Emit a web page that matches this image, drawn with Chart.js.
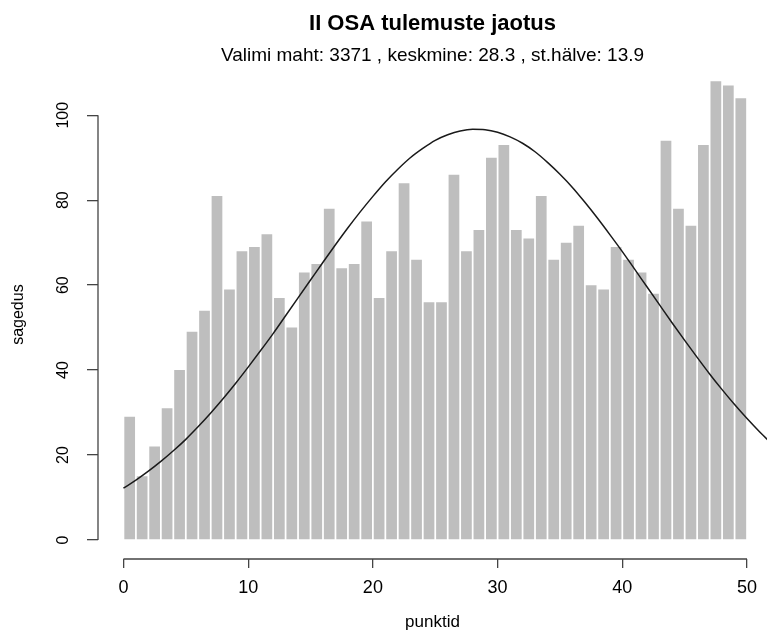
<!DOCTYPE html>
<html lang="et">
<head>
    <meta charset="UTF-8">
    <title>II OSA tulemuste jaotus</title>
    <style>
        body {
            margin: 0;
            background-color: #fff;
        }
        canvas {
            display: block;
        }
    </style>
</head>
<body>

<canvas id="histChart" width="767" height="633"></canvas>

<script src="https://cdn.jsdelivr.net/npm/chart.js"></script>
<script>
    // histogram: one bar per score bin [i, i+1]
    const binStart = [0, 1, 2, 3, 4, 5, 6, 7, 8, 9,
                      10, 11, 12, 13, 14, 15, 16, 17, 18, 19,
                      20, 21, 22, 23, 24, 25, 26, 27, 28, 29,
                      30, 31, 32, 33, 34, 35, 36, 37, 38, 39,
                      40, 41, 42, 43, 44, 45, 46, 47, 48, 49];
    const counts = [29, 15, 22, 31, 40, 49, 54, 81, 59, 68,
                    69, 72, 57, 50, 63, 65, 78, 64, 65, 75,
                    57, 68, 84, 66, 56, 56, 86, 68, 73, 90,
                    93, 73, 71, 81, 66, 70, 74, 60, 59, 69,
                    66, 63, 58, 94, 78, 74, 93, 108, 107, 104];

    // normal curve (mean 28.3, sd 13.9, n 3371)
    const curveX = [0, 1, 2, 3, 4, 5, 6, 7, 8, 9,
                    10, 11, 12, 13, 14, 15, 16, 17, 18, 19,
                    20, 21, 22, 23, 24, 25, 26, 27, 28, 29,
                    30, 31, 32, 33, 34, 35, 36, 37, 38, 39,
                    40, 41, 42, 43, 44, 45, 46, 47, 48, 49,
                    50, 51, 52];
    const curveY = [12.2, 14.1, 16.2, 18.5, 21.0, 23.7, 26.7, 29.9, 33.3, 36.9,
                    40.7, 44.6, 48.6, 52.8, 57.0, 61.2, 65.4, 69.5, 73.5, 77.3,
                    80.9, 84.3, 87.3, 90.0, 92.2, 94.1, 95.4, 96.3, 96.7, 96.6,
                    96.0, 94.9, 93.4, 91.4, 88.9, 86.1, 83.0, 79.5, 75.8, 71.9,
                    67.9, 63.7, 59.5, 55.3, 51.1, 47.0, 43.0, 39.1, 35.4, 31.9,
                    28.6, 25.5, 22.6];

    const xTicks = [0, 10, 20, 30, 40, 50];
    const yTicks = [0, 20, 40, 60, 80, 100];

    const axisColor = '#444';
    const fontFamily = '"Liberation Sans", Arial, sans-serif';

    // R style axis lines: only from first to last tick
    const axisLines = {
        id: 'axisLines',
        afterDraw(chart) {
            const ctx = chart.ctx;
            const x = chart.scales.x;
            const y = chart.scales.y;
            ctx.save();
            ctx.strokeStyle = axisColor;
            ctx.lineWidth = 1.3;
            ctx.beginPath();
            ctx.moveTo(x.getPixelForValue(xTicks[0]), x.top);
            ctx.lineTo(x.getPixelForValue(xTicks[xTicks.length - 1]), x.top);
            ctx.moveTo(y.right, y.getPixelForValue(yTicks[0]));
            ctx.lineTo(y.right, y.getPixelForValue(yTicks[yTicks.length - 1]));
            ctx.stroke();
            ctx.restore();
        }
    };

    const ctx = document.getElementById('histChart').getContext('2d');
    new Chart(ctx, {
        type: 'bar',
        data: {
            datasets: [
                {
                    type: 'line',
                    label: 'normaaljaotus',
                    data: curveX.map((v, i) => ({ x: v, y: curveY[i] })),
                    borderColor: '#1a1a1a',
                    borderWidth: 1.5,
                    pointRadius: 0,
                    fill: false,
                    cubicInterpolationMode: 'monotone',
                    order: 0
                },
                {
                    type: 'bar',
                    label: 'sagedus',
                    data: binStart.map((b, i) => ({ x: b + 0.5, y: counts[i] })),
                    backgroundColor: '#bebebe',
                    borderWidth: 0,
                    barPercentage: 0.86,
                    categoryPercentage: 1.0,
                    order: 1
                }
            ]
        },
        options: {
            responsive: false,
            animation: false,
            devicePixelRatio: 1,
            layout: { padding: { left: 0, right: 0, top: 0, bottom: 0 } },
            plugins: {
                legend: { display: false },
                tooltip: { enabled: false },
                title: {
                    display: true,
                    fullSize: false,
                    text: 'II OSA tulemuste jaotus',
                    color: '#000',
                    font: { family: fontFamily, size: 22, weight: 'bold' },
                    padding: { top: 11, bottom: 7 }
                },
                subtitle: {
                    display: true,
                    fullSize: false,
                    text: 'Valimi maht: 3371 , keskmine: 28.3 , st.hälve: 13.9',
                    color: '#000',
                    font: { family: fontFamily, size: 19 },
                    padding: { top: 0, bottom: 3 }
                }
            },
            scales: {
                x: {
                    type: 'linear',
                    offset: false,
                    min: -2.04,
                    max: 51.6,
                    afterBuildTicks: (scale) => { scale.ticks = xTicks.map(v => ({ value: v })); },
                    afterFit: (scale) => { scale.height = 74; },
                    grid: {
                        offset: false,
                        drawOnChartArea: false,
                        drawTicks: true,
                        tickLength: 9,
                        color: axisColor,
                        lineWidth: 1.3
                    },
                    border: { display: false },
                    ticks: {
                        color: '#000',
                        padding: 9,
                        maxRotation: 0,
                        font: { family: fontFamily, size: 18 }
                    },
                    title: {
                        display: true,
                        text: 'punktid',
                        color: '#000',
                        font: { family: fontFamily, size: 17 },
                        padding: { top: 0, bottom: 0 }
                    }
                },
                y: {
                    type: 'linear',
                    min: -4.47,
                    max: 110.6,
                    afterBuildTicks: (scale) => { scale.ticks = yTicks.map(v => ({ value: v })); },
                    afterFit: (scale) => { scale.width = 98; },
                    grid: {
                        drawOnChartArea: false,
                        drawTicks: true,
                        tickLength: 11,
                        color: axisColor,
                        lineWidth: 1.3
                    },
                    border: { display: false },
                    ticks: {
                        color: '#000',
                        padding: 10.5,
                        minRotation: 90,
                        maxRotation: 90,
                        crossAlign: 'center',
                        font: { family: fontFamily, size: 16 }
                    },
                    title: {
                        display: true,
                        text: 'sagedus',
                        color: '#000',
                        font: { family: fontFamily, size: 16 },
                        padding: { top: 9, bottom: 0 }
                    }
                }
            }
        },
        plugins: [axisLines]
    });
</script>

</body>
</html>
